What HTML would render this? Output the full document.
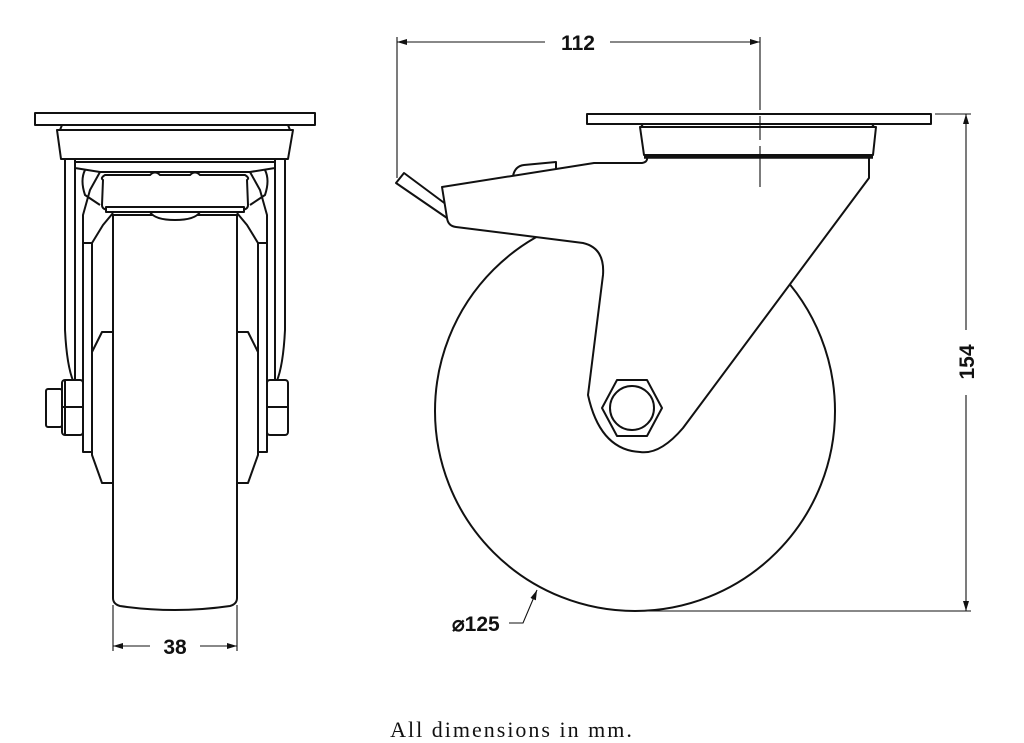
<!DOCTYPE html>
<html><head><meta charset="utf-8"><style>
html,body{margin:0;padding:0;background:#fff;}
svg{display:block;}
.l{fill:#fff;stroke:#111;stroke-width:2;stroke-linejoin:round;}
.n{fill:none;stroke:#111;stroke-width:2;stroke-linejoin:round;}
.d{fill:none;stroke:#111;stroke-width:1.1;}
.t{font-family:"Liberation Sans",sans-serif;font-weight:bold;font-size:21px;fill:#111;}
</style></head><body>
<svg width="1024" height="743" viewBox="0 0 1024 743" xmlns="http://www.w3.org/2000/svg">
<defs>
<marker id="a" viewBox="0 0 10 6" refX="10" refY="3" markerWidth="10" markerHeight="6" orient="auto-start-reverse" markerUnits="userSpaceOnUse"><path d="M0,0 L10,3 L0,6 Z" fill="#111"/></marker>
</defs>

<!-- ===== LEFT VIEW ===== -->
<path class="l" d="M65,159 L65,330 Q67,370 75,385 L75,159 Z"/>
<path class="l" d="M285,159 L285,330 Q283,370 275,385 L275,159 Z"/>
<path class="n" d="M75,190 L75,385 M275,190 L275,385"/>
<path class="l" d="M83,243 L92,243 L92,452 L83,452 Z"/>
<path class="l" d="M258,243 L267,243 L267,452 L258,452 Z"/>
<path class="n" d="M92,243 L103,225 L113,213 M258,243 L247,225 L237,213"/>
<path class="n" d="M83,243 L83,215 L90,190 L100,172 M267,243 L267,215 L260,190 L250,172"/>
<path class="l" d="M92,352 L102,332 L113,332 L113,483 L102,483 L92,455 Z"/>
<path class="l" d="M258,352 L248,332 L237,332 L237,483 L248,483 L258,455 Z"/>
<path class="l" d="M113,215 L237,215 L237,598 Q237,604 230,606 Q175,614 120,606 Q113,604 113,598 Z"/>
<rect class="l" x="46" y="389" width="16" height="38" rx="2"/>
<rect class="l" x="62" y="380" width="21" height="55" rx="3"/>
<path class="n" d="M62,407 L83,407 M65,380 L65,435"/>
<rect class="l" x="267" y="380" width="21" height="55" rx="3"/>
<path class="n" d="M267,407 L288,407"/>
<path class="l" d="M57,130 L293,130 L288,159 L61,159 Z"/>
<path class="l" d="M62,125 L288,125 L290,130 L60,130 Z"/>
<rect class="l" x="35" y="113" width="280" height="12"/>
<path class="l" d="M75,162 L275,162 L275,168 L250,172 L100,172 L75,168 Z"/>
<path class="l" d="M103,180 Q100,178 105,175 L150,175 Q155,170 160,175 L190,175 Q195,170 200,175 L245,175 Q250,178 247,180 L248,205 Q248,210 240,210 L110,210 Q102,210 102,205 Z"/>
<path class="n" d="M85,170 Q80,180 85,195 L100,205 M265,170 Q270,180 265,195 L250,205"/>
<path class="l" d="M106,207 L244,207 L244,212 L106,212 Z"/>
<path class="l" d="M150,212 L200,212 Q195,220 175,220 Q155,220 150,212 Z"/>

<!-- ===== RIGHT VIEW ===== -->
<circle class="l" cx="635" cy="411" r="200"/>
<path class="l" d="M396,183 L404,173 L447,205 L447,218 Z"/>
<path class="l" d="M513,176 Q515,166 524,165 L556,162 L556,172 Z"/>
<path class="l" d="M647,157 L869,157 L869,178 L683,428 Q660,455 640,452 Q600,450 588,395 L603,275 Q605,248 583,243 L456,227 Q448,226 447,218 L442,187 L594,163 L642,163 Q648,162 647,157 Z"/>
<polygon class="l" points="602,408 617,380 647,380 662,408 647,436 617,436"/>
<circle class="l" cx="632" cy="408" r="22"/>
<path class="l" d="M640,127 L876,127 L873,155 L644,155 Z"/>
<path class="n" d="M644,157 L873,157" style="stroke-width:3.5"/>
<path class="l" d="M643,124 L872,124 L874,127 L641,127 Z"/>
<rect class="l" x="587" y="114" width="344" height="10"/>

<!-- ===== DIMENSIONS ===== -->
<path class="d" d="M397,37 L397,178"/>
<path class="d" d="M760,37 L760,110 M760,116 L760,140 M760,146 L760,187" />
<path class="d" d="M397,42 L545,42" marker-start="url(#a)"/>
<path class="d" d="M610,42 L760,42" marker-end="url(#a)"/>
<text class="t" x="578" y="50" text-anchor="middle">112</text>
<path class="d" d="M935,114 L971,114 M625,611 L971,611"/>
<path class="d" d="M966,114 L966,330" marker-start="url(#a)"/>
<path class="d" d="M966,395 L966,611" marker-end="url(#a)"/>
<text class="t" transform="translate(974,362) rotate(-90)" text-anchor="middle">154</text>
<path class="d" d="M509,623 L523,623 L537,590" marker-end="url(#a)"/>
<text class="t" x="452" y="631">⌀125</text>
<path class="d" d="M113,605 L113,651 M237,605 L237,651"/>
<path class="d" d="M113,646 L150,646" marker-start="url(#a)"/>
<path class="d" d="M200,646 L237,646" marker-end="url(#a)"/>
<text class="t" x="175" y="654" text-anchor="middle">38</text>

<text x="512" y="737" text-anchor="middle" style="font-family:'Liberation Serif',serif;font-size:22px;letter-spacing:2px;fill:#111;">All dimensions in mm.</text>
</svg>
</body></html>
